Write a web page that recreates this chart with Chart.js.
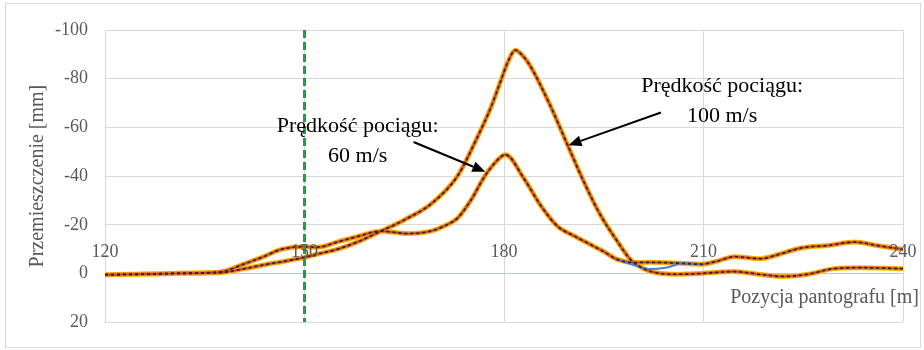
<!DOCTYPE html>
<html lang="pl">
<head>
<meta charset="utf-8">
<title>Przemieszczenie – pozycja pantografu</title>
<script src="https://cdn.jsdelivr.net/npm/chart.js@4.4.1/dist/chart.umd.min.js"></script>
<style>
  html, body { margin: 0; padding: 0; background: #fff; }
  canvas { display: block; }
</style>
</head>
<body>
<canvas id="chart" width="924" height="350"></canvas>
<script>
// ---- data ------------------------------------------------------------
const xTicks = [120, 150, 180, 210, 240];
const yTicks = [-100, -80, -60, -40, -20, 0, 20];

// train speed 60 m/s
const pos60  = [120, 125, 130, 135, 138, 141, 143.5, 146.5, 149.5, 152, 155, 158, 161.5, 165.5, 169, 171, 173, 175, 177, 178.5, 180.2, 183, 185.5, 188, 190.5, 193, 195, 197, 199.5, 202, 206, 209.6, 212, 214.6, 218.6, 221.5, 224.7, 228.7, 232.7, 236.3, 240];
const disp60 = [0.5, 0.3, 0, -0.3, -1, -4, -6.5, -9.9, -11, -10.8, -13, -15.2, -17.4, -16.4, -17.4, -19.5, -22.7, -30, -39.5, -45, -48.8, -39, -28, -19.5, -15.5, -11.9, -9, -5.8, -4.5, -4.6, -4.3, -3.8, -5, -6.9, -6.1, -8, -10.5, -11.5, -12.9, -11.4, -9.9];

// train speed 100 m/s
const pos100  = [120, 125, 130, 135, 138, 141, 144.4, 147, 149.8, 152, 155, 158, 161.5, 165, 169, 173, 176, 178, 179.5, 180.6, 181.7, 182.8, 184, 187, 189.6, 192, 194.5, 197, 199, 201, 203.6, 206, 209.6, 214.6, 218.6, 222, 225.7, 229.6, 233.7, 240];
const disp100 = [0.5, 0.3, 0, -0.2, -0.5, -2, -3.8, -5, -6.5, -8, -10, -13, -17.4, -22, -28.5, -40, -56, -68, -79, -87, -91.7, -89.5, -85, -68.7, -52.5, -37.7, -24, -13.4, -5.8, -2, 0, 0.3, 0, -0.8, 0.4, 1.2, 0.3, -2, -2.4, -2];

// short stretch where the blue run leaves the 60 m/s curve
const posBlue  = [197, 199.5, 202, 204.5, 207, 209.6];
const dispBlue = [-5.8, -3.5, -1.8, -2.5, -4.2, -3.8];

// pantograph start marker
const markerPos  = [150, 150];
const markerDisp = [-100, 20];

// annotations: [x, y] in data units
const label60  = { lines: ['Prędkość pociągu:', '60 m/s'],  at: [158, -60.5], from: [166.4, -54], to: [177.2, -41.8] };
const label100 = { lines: ['Prędkość pociągu:', '100 m/s'], at: [212.8, -76.8], from: [203.6, -66.1], to: [189.7, -52.7] };

const xTitle = 'Pozycja pantografu [m]';
const yTitle = 'Przemieszczenie [mm]';

// ---- helpers ---------------------------------------------------------
const pts = (xs, ys) => xs.map((x, i) => ({ x, y: ys[i] }));

function curveSet(xs, ys, color, width, dash) {
  return {
    data: pts(xs, ys),
    borderColor: color,
    borderWidth: width,
    borderDash: dash || [],
    pointRadius: 0,
    fill: false,
    cubicInterpolationMode: 'monotone',
  };
}

// Chart.js paints dataset 0 last, so list from top layer to bottom layer
const curves = [[pos60, disp60], [pos100, disp100]];
const datasets = [];
datasets.push({
  data: pts(markerPos, markerDisp),
  borderColor: '#1e9e4a',
  borderWidth: 3,
  borderDash: [8, 4],
  pointRadius: 0,
  fill: false,
});
curves.forEach(([xs, ys]) => datasets.push(curveSet(xs, ys, '#2e2626', 1.8, [3, 3])));
datasets.push(curveSet(posBlue, dispBlue, '#4a7fd0', 2));
curves.forEach(([xs, ys]) => datasets.push(curveSet(xs, ys, '#c0392b', 1.2)));
curves.forEach(([xs, ys]) => datasets.push(curveSet(xs, ys, '#ed7d31', 3.5)));
curves.forEach(([xs, ys]) => datasets.push(curveSet(xs, ys, '#ffc000', 5)));

// ---- plugin: frame, x labels, annotations ----------------------------
const decor = {
  id: 'decor',
  beforeDraw(chart) {
    const c = chart.ctx;
    c.save();
    c.fillStyle = '#fff';
    c.fillRect(0, 0, chart.width, chart.height);
    c.strokeStyle = '#d9d9d9';
    c.lineWidth = 1;
    c.strokeRect(5.5, 3.5, 915, 344);
    c.restore();
  },
  afterDatasetsDraw(chart) {
    const c = chart.ctx;
    const xs = chart.scales.x, ys = chart.scales.y;
    const y0 = ys.getPixelForValue(0);
    c.save();

    // x tick labels sit above the zero line
    c.font = '18px "Liberation Serif", "Times New Roman", serif';
    c.fillStyle = '#595959';
    c.textAlign = 'center';
    c.textBaseline = 'middle';
    xTicks.forEach(v => c.fillText(String(v), xs.getPixelForValue(v), y0 - 21));

    // x axis title, right aligned under the axis
    c.font = '20px "Liberation Serif", "Times New Roman", serif';
    c.textAlign = 'right';
    c.fillText(xTitle, 919, y0 + 24);

    // speed labels with arrows
    [label60, label100].forEach(a => {
      const cx = xs.getPixelForValue(a.at[0]);
      const cy = ys.getPixelForValue(a.at[1]);
      c.font = '22px "Liberation Serif", "Times New Roman", serif';
      c.fillStyle = '#000';
      c.textAlign = 'center';
      a.lines.forEach((t, i) => c.fillText(t, cx, cy + i * 30));

      const x1 = xs.getPixelForValue(a.from[0]), y1 = ys.getPixelForValue(a.from[1]);
      const x2 = xs.getPixelForValue(a.to[0]),   y2 = ys.getPixelForValue(a.to[1]);
      const ang = Math.atan2(y2 - y1, x2 - x1);
      const head = 13, half = 5.5;
      c.strokeStyle = '#000';
      c.lineWidth = 2;
      c.beginPath();
      c.moveTo(x1, y1);
      c.lineTo(x2 - Math.cos(ang) * head, y2 - Math.sin(ang) * head);
      c.stroke();
      c.beginPath();
      c.moveTo(x2, y2);
      c.lineTo(x2 - Math.cos(ang) * head - Math.sin(ang) * half, y2 - Math.sin(ang) * head + Math.cos(ang) * half);
      c.lineTo(x2 - Math.cos(ang) * head + Math.sin(ang) * half, y2 - Math.sin(ang) * head - Math.cos(ang) * half);
      c.closePath();
      c.fill();
    });
    c.restore();
  },
};

new Chart(document.getElementById('chart'), {
  type: 'line',
  data: { datasets },
  plugins: [decor],
  options: {
    responsive: false,
    animation: false,
    layout: { padding: { top: 30, right: 21, bottom: 24, left: 0 } },
    plugins: { legend: { display: false }, tooltip: { enabled: false } },
    scales: {
      x: {
        type: 'linear',
        min: xTicks[0],
        max: xTicks[xTicks.length - 1],
        afterBuildTicks: s => { s.ticks = xTicks.map(v => ({ value: v })); },
        afterFit: s => { s.height = 0; },
        ticks: { display: false },
        grid: { color: '#d9d9d9', drawTicks: false },
        border: { display: false },
      },
      y: {
        type: 'linear',
        reverse: true,
        min: yTicks[0],
        max: yTicks[yTicks.length - 1],
        afterBuildTicks: s => { s.ticks = yTicks.map(v => ({ value: v })); },
        afterFit: s => { s.width = 105; },
        ticks: {
          padding: 17,
          color: '#595959',
          font: { family: '"Liberation Serif", "Times New Roman", serif', size: 18 },
          callback: v => String(v),
        },
        grid: {
          drawTicks: false,
          color: ctx => (ctx.tick && ctx.tick.value === 0 ? '#b9c9e4' : '#d9d9d9'),
        },
        border: { display: false },
        title: {
          display: true,
          text: yTitle,
          color: '#595959',
          font: { family: '"Liberation Serif", "Times New Roman", serif', size: 20 },
          padding: { top: 26, bottom: 0 },
        },
      },
    },
  },
});
</script>
</body>
</html>
